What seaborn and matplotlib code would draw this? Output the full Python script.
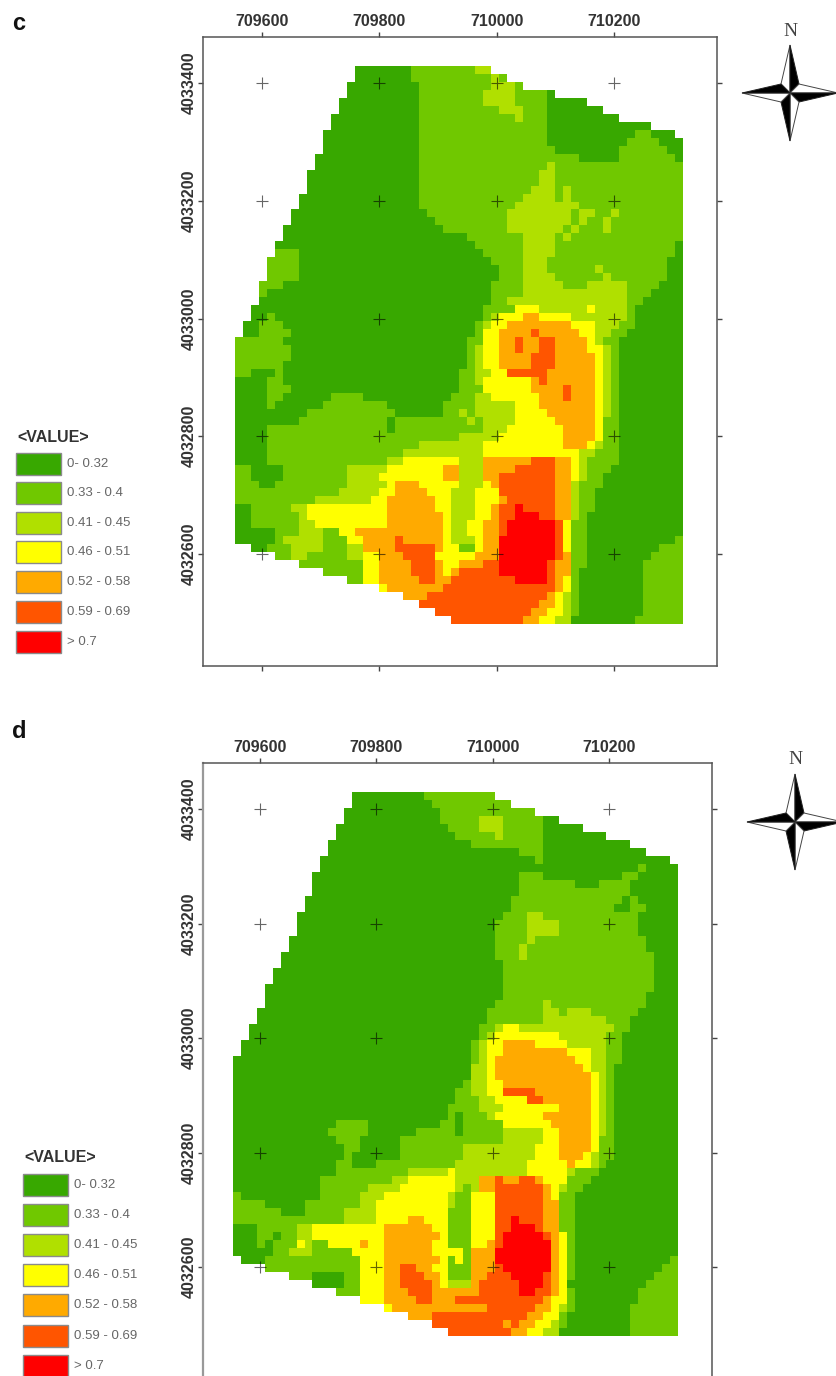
import numpy as np
import matplotlib
matplotlib.use('Agg')
import matplotlib.pyplot as plt
from matplotlib.colors import ListedColormap
from matplotlib.patches import Polygon, Rectangle
import seaborn as sns

# class rasters, one string per row, blocks of 8 cells
# '.' = outside the study area, 0-6 = legend class
rows_c = [
    "........ .......0 00000011 11111122",
    "........ .......0 00000011 11111111 21",
    "........ ......00 00000001 11111111 2221",
    "........ ......00 00000001 11111112 22211110",
    "........ .....000 00000001 11111112 22211110 0000",
    "........ .....000 00000001 11111111 12221110 000000",
    "........ ....0000 00000001 11111111 11121110 00000000",
    "........ ....0000 00000001 11111111 11111110 00000000 0000",
    "........ ...00000 00000001 11111111 11111110 00000000 0011000",
    "........ ...00000 00000001 11111111 11111110 00000000 01111000",
    "........ ...00000 00000001 11111111 11111111 00000000 11111100",
    "........ ..000000 00000001 11111111 11111111 11100000 11111110",
    "........ ..000000 00000001 11111111 11111112 11111111 11111111",
    "........ .0000000 00000001 11111111 11111122 11111111 11111111",
    "........ .0000000 00000001 11111111 11111122 11111111 11111111",
    "........ .0000000 00000001 11111111 11111222 12111111 11111111",
    "........ 00000000 00000001 11111111 11112222 12111111 11111111",
    "........ 00000000 00000001 11111111 11122222 22211111 11111111",
    ".......0 00000000 00000000 11111111 11222222 22122112 11111111",
    ".......0 00000000 00000000 01111111 11222222 22121121 11111111",
    "......00 00000000 00000000 00111111 11222222 21211121 11111111",
    "......00 00000000 00000000 00000111 11112222 12111111 11111111",
    ".....000 00000000 00000000 00000011 11112222 11111111 11111110",
    ".....111 00000000 00000000 00000001 11112222 11111111 11111110",
    "....1111 00000000 00000000 00000000 11112221 11111111 11111100",
    "....1111 00000000 00000000 00000000 01112221 11111211 11111100",
    "....1111 00000000 00000000 00000000 01112222 11111121 11111100",
    "...11100 00000000 00000000 00000000 11112222 21112222 21111000",
    "...10000 00000000 00000000 00000000 11112222 22222222 21110000",
    "...00000 00000000 00000000 00000000 11222222 22222222 21100000",
    "..000000 00000000 00000000 00000001 11133322 22223222 21000000",
    "..001000 00000000 00000000 00000001 23334433 33222222 21000000",
    ".0011100 00000000 00000000 00000012 33444444 44333222 11000000",
    ".0011110 00000000 00000000 00000013 34444544 44433221 10000000",
    "11111100 00000000 00000000 00000113 34454455 44443211 00000000",
    "11111110 00000000 00000000 00000123 34454455 44443321 00000000",
    "11111110 00000000 00000000 00000123 34444555 44444321 00000000",
    "11111100 00000000 00000000 00000123 34444555 44444321 00000000",
    "11000100 00000000 00000000 00001122 33555554 44444321 00000000",
    "00001100 00000000 00000000 00001123 33333454 44444321 00000000",
    "00001110 00000000 00000000 00001113 33333444 45444321 00000000",
    "00001100 00001111 00000000 00011122 33333344 45444321 00000000",
    "00001000 00011111 11100000 00111122 22233344 44444321 00000000",
    "00000000 01111111 11110000 00112122 22233334 44444321 00000000",
    "00000000 11111111 11101111 11111212 22233333 44444311 00000000",
    "00001111 11111111 11101111 11111112 22333333 34444311 00000000",
    "00001111 11111111 11111111 11112222 23333333 34444311 00000000",
    "00001111 11111111 11111112 22222223 33333333 34443211 00000000",
    "00001111 11111111 11111222 22222223 33333333 33322111 00000000",
    "00001111 11111111 11122333 33332224 44444555 44321111 00000000",
    "11000011 11111122 22233333 33442224 44455555 44321110 00000000",
    "11000011 11111122 22333333 33442224 45555555 44321100 00000000",
    "11100111 11111122 22234443 33332223 45555555 44211100 00000000",
    "11111111 11111222 22334444 33322233 35555555 44211000 00000000",
    "11111111 11222222 23344444 43322233 34555555 44211000 00000000",
    "00111112 23333333 33344444 43322233 45565555 44211000 00000000",
    "00111111 23333333 33344444 44322233 45566655 44210000 00000000",
    "00111111 22333333 33344444 44322334 45666666 53110000 00000000",
    "00000111 22211334 44444444 44322334 45666666 53110000 00000000",
    "00000122 22211133 44445444 44322234 46666666 53110000 00000001",
    "..001112 22211122 44445555 54331134 46666666 53110000 00000111",
    ".....112 21111122 33444555 53333344 46666666 54110000 00001111",
    "........ 11111111 33444455 54334445 56666665 44110000 00011111",
    "........ ...11111 33444455 54345555 56666665 44100000 00011111",
    "........ ......11 33444445 54455555 55566665 43100000 00011111",
    "........ ........ ..344444 44555555 55555555 43100000 00011111",
    "........ ........ .....444 55555555 55555554 32100000 00011111",
    "........ ........ .......5 55555555 55555544 32100000 00011111",
    "........ ........ ........ .5555555 55555443 32100000 00011111",
    "........ ........ ........ ...55555 55554433 22000000 00111111",
]

rows_d = [
    "........ .......0 00000000 11111111 1",
    "........ .......0 00000000 01111111 111",
    "........ ......00 00000000 00111111 111111",
    "........ ......00 00000000 00111112 22111110 0",
    "........ .....000 00000000 00011112 22111110 0000",
    "........ .....000 00000000 00001111 12111110 0000000",
    "........ ....0000 00000000 00000011 11111110 00000000 00",
    "........ ....0000 00000000 00000000 00001110 00000000 0000",
    "........ ...00000 00000000 00000000 00000010 00000000 0000000",
    "........ ...00000 00000000 00000000 00000000 00000000 00010000",
    "........ ..000000 00000000 00000000 00001110 00000000 01100000",
    "........ ..000000 00000000 00000000 00001111 11100011 11000000",
    "........ ..000000 00000000 00000000 00001111 11111111 11000000",
    "........ .0000000 00000000 00000000 00011111 11111111 10100000",
    "........ .0000000 00000000 00000000 00011111 11111111 00110000",
    "........ 00000000 00000000 00000000 00111221 11111111 11100000",
    "........ 00000000 00000000 00000000 01111222 21111111 11100000",
    "........ 00000000 00000000 00000000 01111222 21111111 11100000",
    ".......0 00000000 00000000 00000000 01111211 11111111 11110000",
    ".......0 00000000 00000000 00000000 01112111 11111111 11110000",
    "......00 00000000 00000000 00000000 01112111 11111111 11111000",
    "......00 00000000 00000000 00000000 00111111 11111111 11111000",
    ".....000 00000000 00000000 00000000 00111111 11111111 11111000",
    ".....000 00000000 00000000 00000000 00111111 11111111 11111000",
    "....0000 00000000 00000000 00000000 00111111 11111111 11111000",
    "....0000 00000000 00000000 00000000 00111111 11111111 11110000",
    "....0000 00000000 00000000 00000000 01111112 11111111 11110000",
    "...00000 00000000 00000000 00000000 11111112 21222111 11100000",
    "...00000 00000000 00000000 00000000 11111112 22222221 11000000",
    "..000000 00000000 00000000 00000001 12332222 22222222 11000000",
    "..000000 00000000 00000000 00000001 23333333 32222221 10000000",
    ".0000000 00000000 00000000 00000012 33444433 33222221 10000000",
    ".0000000 00000000 00000000 00000012 33444444 44333221 10000000",
    "00000000 00000000 00000000 00000012 34444444 44433221 10000000",
    "00000000 00000000 00000000 00000022 34444444 44443221 00000000",
    "00000000 00000000 00000000 00000022 34444444 44444321 00000000",
    "00000000 00000000 00000000 00000122 33444444 44444321 00000000",
    "00000000 00000000 00000000 00001122 33555544 44444321 00000000",
    "00000000 00000000 00000000 00001112 23333554 44444321 00000000",
    "00000000 00000000 00000000 00011112 22333333 34444321 00000000",
    "00000000 00000000 00000000 00010111 23333334 44444321 00000000",
    "00000000 00000111 10000000 00110111 11333333 44444321 00000000",
    "00000000 00001111 10000001 11110111 11222223 34444321 00000000",
    "00000000 00000111 00000111 11111111 11222223 34444311 00000000",
    "00000000 00000011 00000111 11111222 22222233 34444311 00000000",
    "00000000 00000010 00000111 11111222 22222233 34443211 00000000",
    "00000000 00000110 00111111 11112222 22222333 33433210 00000000",
    "00000000 00000111 11111122 22232222 22222333 33211100 00000000",
    "00000000 00011111 11112233 33332224 45445543 33111000 00000000",
    "00000000 00011111 12222333 33332124 45555554 32110000 00000000",
    "10000000 00011111 22233333 33321133 35555554 31100000 00000000",
    "11110000 01111111 22333333 33321133 35555554 41100000 00000000",
    "11111100 01111122 22333333 33311133 35555554 41100000 00000000",
    "11111111 11111122 22333344 33311133 35565554 41100000 00000000",
    "00011111 22333333 33344444 43311133 35566654 41100000 00000000",
    "00011011 22333333 33344444 44311133 35666665 43100000 00000000",
    "00010111 32113333 43344444 43311133 45666666 43100000 00000000",
    "00000112 22111113 33344444 43333144 46666666 43100000 00000000",
    ".0001111 11111111 33344444 44313144 46666666 43100000 00000001",
    "....1111 11111111 33344554 43311144 45666666 43100000 00000011",
    ".......1 11000011 33344555 44311144 55566665 43100000 00000111",
    "........ ..000011 33344555 54322245 55556665 43000000 00001111",
    "........ .....111 33344455 54444445 55556655 43100000 00011111",
    "........ ........ 33344445 54445555 55555554 33100000 00011111",
    "........ ........ ...34444 44444444 55555544 32100000 00111111",
    "........ ........ ......44 45555555 55555443 31000000 00111111",
    "........ ........ ........ .5555555 55454433 21000000 00111111",
    "........ ........ ........ ...55555 55544332 20000000 00111111",
]

class_colors = ['#38A800', '#70C800', '#B0E000', '#FFFF00', '#FFAA00', '#FF5500', '#FF0000']
class_labels = ['0- 0.32', '0.33 - 0.4', '0.41 - 0.45', '0.46 - 0.51', '0.52 - 0.58', '0.59 - 0.69', '> 0.7']
eastings = [709600, 709800, 710000, 710200]
northings = [4033400, 4033200, 4033000, 4032800, 4032600]

W, H = 837, 1376


def to_grid(rows):
    out = []
    for r in rows:
        r = r.replace(' ', '').ljust(56, '.')[:56]
        out.append([np.nan if ch == '.' else int(ch) for ch in r])
    return np.array(out)


def draw_panel(rows, frame, raster, x0, dx, y0, dy):
    left, right, top, bottom = frame
    ax = fig.add_axes([left / W, 1 - bottom / H, (right - left) / W, (bottom - top) / H])
    grid = to_grid(rows)
    sns.heatmap(grid, ax=ax, cmap=ListedColormap(class_colors), vmin=-0.5, vmax=6.5,
                cbar=False, xticklabels=False, yticklabels=False)
    cw = (raster[1] - raster[0]) / grid.shape[1]
    ch = (raster[3] - raster[2]) / grid.shape[0]
    ax.set_xlim((left - raster[0]) / cw, (right - raster[0]) / cw)
    ax.set_ylim((bottom - raster[2]) / ch, (top - raster[2]) / ch)

    xt = [(e - x0) / dx for e in eastings]
    yt = [(y0 - n) / dy for n in northings]
    ax.set_xticks(xt)
    ax.set_xticklabels(eastings, fontsize=11.5, fontweight='bold', color='#333333')
    ax.set_yticks(yt)
    ax.set_yticklabels(northings, fontsize=11.5, fontweight='bold', color='#333333',
                       rotation=90, va='center')
    ax.tick_params(top=True, bottom=True, left=True, right=True, labeltop=True,
                   labelbottom=False, length=3.6, width=1, color='#444444')
    ax.tick_params(axis='x', pad=2.2)
    ax.tick_params(axis='y', pad=1)
    for s in ax.spines.values():
        s.set_visible(True)
        s.set_color('#555555')
        s.set_linewidth(1.1)
    # graticule crosses
    gx, gy = np.meshgrid(xt, yt)
    ax.plot(gx.ravel(), gy.ravel(), '+', color='black', alpha=0.6, ms=8.5, mew=0.8)
    return ax


def draw_legend(x, title_y, tops):
    over.text(x + 1, title_y, '<VALUE>', fontsize=11.5, fontweight='bold', color='#333333',
              va='center', ha='left')
    for t, c, lab in zip(tops, class_colors, class_labels):
        over.add_patch(Rectangle((x, t), 45, 22, facecolor=c, edgecolor='#8a8a8a', lw=1))
        over.text(x + 51, t + 11, lab, fontsize=9.5, color='#666666', va='center', ha='left')


def draw_north(cx, cy, n_y):
    over.text(cx, n_y, 'N', fontsize=14, family='Liberation Serif', color='#444444',
              ha='center', va='center')
    r, s = 48, 9
    arms = [
        ((0, -r), (-s, -s), 'white', (s, -s), 'black'),
        ((r, 0), (s, -s), 'white', (s, s), 'black'),
        ((0, r), (s, s), 'white', (-s, s), 'black'),
        ((-r, 0), (-s, s), 'white', (-s, -s), 'black'),
    ]
    for tip, a, ca, b, cb in arms:
        tp = (cx + tip[0], cy + tip[1])
        over.add_patch(Polygon([tp, (cx + a[0], cy + a[1]), (cx, cy)], facecolor=ca,
                               edgecolor='#444444', lw=0.7))
        over.add_patch(Polygon([tp, (cx + b[0], cy + b[1]), (cx, cy)], facecolor=cb,
                               edgecolor='#222222', lw=0.7))


sns.set_style('white')
plt.rcParams['font.family'] = ['Liberation Sans', 'DejaVu Sans']

fig = plt.figure(figsize=(W / 100, H / 100), dpi=100)

draw_panel(rows_c, (203, 717, 37, 666), (235, 683, 66, 624), 709554.0, 13.636, 4033429.0, 13.54)
ax_d = draw_panel(rows_d, (203, 712, 763, 1400), (233, 678, 792, 1336), 709553.6, 13.66, 4033429.7, 13.97)
ax_d.spines['left'].set_color('#999999')
ax_d.spines['left'].set_linewidth(1.6)

# pixel overlay for legends, north arrows and panel letters
over = fig.add_axes([0, 0, 1, 1], facecolor='none')
over.set_xlim(0, W)
over.set_ylim(H, 0)
over.axis('off')

draw_legend(16, 437, [453, 482, 512, 541, 571, 601, 631])
draw_legend(23, 1158, [1174, 1204, 1234, 1264, 1294, 1325, 1355])
draw_north(790, 93, 31)
draw_north(795, 822, 760)

over.text(12, 24, 'c', fontsize=17, fontweight='bold', color='#111111', ha='left', va='center')
over.text(12, 732, 'd', fontsize=17, fontweight='bold', color='#111111', ha='left', va='center')

fig.savefig('out.png', dpi=100)
